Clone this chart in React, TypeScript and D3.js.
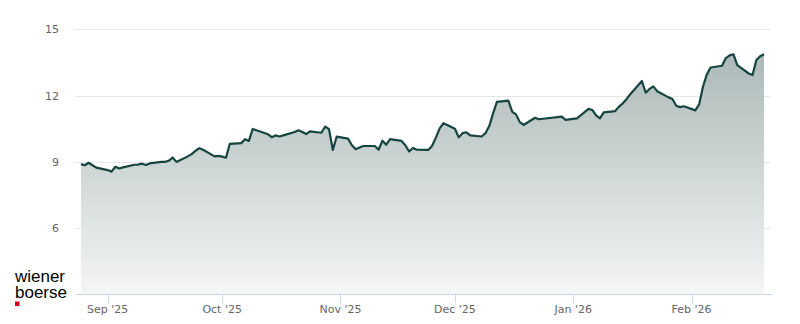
import React from "react";
import * as d3 from "d3";

// ---- data ----
const startDate = "2025-08-25";
const holidays = ["2025-12-24", "2025-12-25", "2025-12-26", "2025-12-31", "2026-01-01"];
const closePrices = [
  8.90, 8.85, 8.96, 8.85, 8.74,
  8.63, 8.56, 8.78, 8.70, 8.75,
  8.87, 8.88, 8.92, 8.86, 8.93,
  9.00, 9.00, 9.05, 9.20, 9.00,
  9.25, 9.35, 9.50, 9.62, 9.55,
  9.25, 9.27, 9.24, 9.19, 9.82,
  9.85, 10.03, 9.95, 10.49, 10.43,
  10.25, 10.12, 10.20, 10.15, 10.20,
  10.35, 10.43, 10.35, 10.26, 10.38,
  10.32, 10.60, 10.48, 9.54, 10.14,
  10.05, 9.75, 9.57, 9.65, 9.72,
  9.72, 9.55, 9.96, 9.78, 10.03,
  9.95, 9.75, 9.47, 9.63, 9.55,
  9.54, 9.72, 10.10, 10.52, 10.75,
  10.50, 10.11, 10.30, 10.34, 10.20,
  10.15, 10.30, 10.62, 11.20, 11.72,
  11.77, 11.27, 11.15, 10.80, 10.67,
  11.00, 10.93,
  11.05, 10.90, 10.97,
  11.40, 11.35, 11.10, 10.97, 11.24,
  11.30, 11.50, 11.65, 11.85, 12.07,
  12.66, 12.13, 12.30, 12.42, 12.20,
  11.92, 11.85, 11.54, 11.48, 11.52,
  11.33, 11.60, 12.40, 12.95, 13.27,
  13.35, 13.70, 13.82, 13.87, 13.38,
  13.00, 12.93, 13.61, 13.78, 13.87,
];
const yTicks = [6, 9, 12, 15];
const yDomain = [3, 15];

// build trading dates (weekdays, excluding holidays)
const fmtKey = d3.timeFormat("%Y-%m-%d");
const parse = d3.timeParse("%Y-%m-%d");
function buildSeries() {
  const out: { date: Date; value: number }[] = [];
  let d = parse(startDate) as Date;
  let i = 0;
  while (i < closePrices.length) {
    const wd = d.getDay();
    if (wd !== 0 && wd !== 6 && !holidays.includes(fmtKey(d))) {
      out.push({ date: new Date(d), value: closePrices[i] });
      i++;
    }
    d = d3.timeDay.offset(d, 1);
  }
  return out;
}

export default function App() {
  const W = 800, H = 324;
  const data = buildSeries();
  const x = d3
    .scaleTime()
    .domain([data[0].date, data[data.length - 1].date])
    .range([81, 764]);
  const y = d3.scaleLinear().domain(yDomain).range([294.5, 29.3]);
  const line = d3
    .line<{ date: Date; value: number }>()
    .x((d) => x(d.date))
    .y((d) => y(d.value));
  const area = d3
    .area<{ date: Date; value: number }>()
    .x((d) => x(d.date))
    .y0(y(yDomain[0]))
    .y1((d) => y(d.value));
  const monthTicks = x.ticks(d3.timeMonth.every(1) as any);
  const fmtMonth = d3.timeFormat("%b '%y");
  const font = "'DejaVu Sans', sans-serif";
  const logoFont = "'Liberation Sans', Arial, sans-serif";

  return (
    <svg
      width={W}
      height={H}
      style={{ position: "absolute", left: 0, top: 0, background: "#fff" }}
    >
      <defs>
        <linearGradient id="fillGrad" gradientUnits="userSpaceOnUse" x1="0" y1={y(15)} x2="0" y2={y(3)}>
          <stop offset="0" stopColor="#a4b3b2" />
          <stop offset="1" stopColor="#f5f6f6" />
        </linearGradient>
      </defs>
      {yTicks.map((t) => (
        <g key={t}>
          <line x1={75} x2={770} y1={Math.round(y(t)) + 0.5} y2={Math.round(y(t)) + 0.5} stroke="#e6e6e6" strokeWidth={1} />
          <text x={59} y={y(t) + 4} textAnchor="end" fontFamily={font} fontSize={11} fill="#666666">
            {t}
          </text>
        </g>
      ))}
      <path d={area(data) as string} fill="url(#fillGrad)" />
      <path d={line(data) as string} fill="none" stroke="#16453f" strokeWidth={2.2} strokeLinejoin="round" />
      <line x1={76} x2={773} y1={294.5} y2={294.5} stroke="#ccd6eb" strokeWidth={1} />
      {monthTicks.map((t) => (
        <g key={+t}>
          <line x1={Math.round(x(t)) + 0.5} x2={Math.round(x(t)) + 0.5} y1={294.5} y2={303} stroke="#ccd6eb" strokeWidth={1} />
          <text x={x(t)} y={313} textAnchor="middle" fontFamily={font} fontSize={11} fill="#666666">
            {fmtMonth(t)}
          </text>
        </g>
      ))}
      <text x={15} y={281.5} fontFamily={logoFont} fontSize={16} fill="#000" textLength={50} lengthAdjust="spacingAndGlyphs">
        wiener
      </text>
      <text x={15} y={298} fontFamily={logoFont} fontSize={16} fill="#000" textLength={52} lengthAdjust="spacingAndGlyphs">
        boerse
      </text>
      <rect x={15} y={301.5} width={4.5} height={4.5} fill="#d6001c" />
    </svg>
  );
}
